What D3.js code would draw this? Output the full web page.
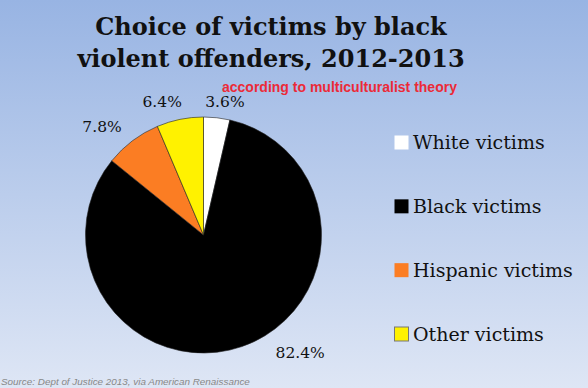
<!DOCTYPE html>
<html>
<head>
<meta charset="utf-8">
<script src="https://cdn.jsdelivr.net/npm/d3@7"></script>
<style>
  body { margin: 0; }
  svg { display: block; }
</style>
</head>
<body>
<div id="chart"></div>
<script>
const categories = ["White victims", "Black victims", "Hispanic victims", "Other victims"];
const shares = [3.6, 82.4, 7.8, 6.4];
const sliceColors = ["#ffffff", "#000000", "#fb7d23", "#fff200"];
const titleLines = ["Choice of victims by black", "violent offenders, 2012-2013"];

const [W, H] = [588, 388];
const CENTER = {x: 203.5, y: 235};
const RADIUS = 118;

const svg = d3.select("#chart").append("svg").attr("width", W).attr("height", H);

// background gradient
const grad = svg.append("defs").append("linearGradient")
    .attr("id", "bg").attr("x1", 0).attr("y1", 0).attr("x2", 0).attr("y2", 1);
grad.append("stop").attr("offset", "0%").attr("stop-color", "#98b4e3");
grad.append("stop").attr("offset", "100%").attr("stop-color", "#dee6f5");
svg.append("rect").attr("width", W).attr("height", H).attr("fill", "url(#bg)");

// title
svg.append("g").selectAll("text").data(titleLines).enter().append("text")
    .attr("x", 271).attr("y", (d, i) => 35 + i * 32)
    .attr("text-anchor", "middle")
    .style("font-family", "'DejaVu Serif', serif")
    .style("font-weight", "bold")
    .style("font-size", "24px")
    .attr("fill", "#111")
    .text(d => d);

svg.append("text")
    .attr("x", 222).attr("y", 92)
    .style("font-family", "'Liberation Sans', Arial, sans-serif")
    .style("font-weight", "bold")
    .style("font-size", "14px")
    .attr("fill", "#ec2a37")
    .text("according to multiculturalist theory");

// pie
const pie = d3.pie().sort(null).value(d => d.value);
const arcs = pie(categories.map((c, i) => ({name: c, value: shares[i], color: sliceColors[i]})));
const arc = d3.arc().innerRadius(0).outerRadius(RADIUS);

const g = svg.append("g").attr("transform", "translate(" + CENTER.x + "," + CENTER.y + ")");
g.selectAll("path").data(arcs).enter().append("path")
    .attr("d", arc)
    .attr("fill", d => d.data.color)
    .attr("stroke", "#222")
    .attr("stroke-width", 0.6);

// value labels, placed just outside each slice
const labelArc = d3.arc().innerRadius(RADIUS + 19).outerRadius(RADIUS + 19);
const labelNudge = [[6, 3], [52, -12], [-19, 1], [-14, 1]];
g.selectAll("text.val").data(arcs).enter().append("text")
    .attr("class", "val")
    .attr("transform", (d, i) => {
        const p = labelArc.centroid(d);
        return "translate(" + (p[0] + labelNudge[i][0]) + "," + (p[1] + labelNudge[i][1]) + ")";
    })
    .attr("text-anchor", "middle")
    .attr("dy", "0.35em")
    .style("font-family", "'DejaVu Serif', serif")
    .style("font-size", "15.5px")
    .attr("fill", "#111")
    .text(d => d.data.value.toFixed(1) + "%");

// legend
const legendY = d3.scalePoint().domain(categories).range([142.5, 334]);
const legend = svg.append("g").selectAll("g").data(categories).enter().append("g")
    .attr("transform", d => "translate(394," + legendY(d) + ")");
legend.append("rect")
    .attr("x", 0.5).attr("y", -7).attr("width", 14).attr("height", 14)
    .attr("fill", (d, i) => sliceColors[i])
    .attr("stroke", (d, i) => i === 3 ? "#777" : "none");
legend.append("text")
    .attr("x", 19).attr("y", 6.5)
    .style("font-family", "'DejaVu Serif', serif")
    .style("font-size", "19px")
    .attr("fill", "#111")
    .text(d => d);

svg.append("text")
    .attr("x", 1).attr("y", 385)
    .style("font-family", "'Liberation Sans', Arial, sans-serif")
    .style("font-style", "italic")
    .style("font-size", "9.9px")
    .attr("fill", "#888")
    .text("Source: Dept of Justice 2013, via American Renaissance");
</script>
</body>
</html>
